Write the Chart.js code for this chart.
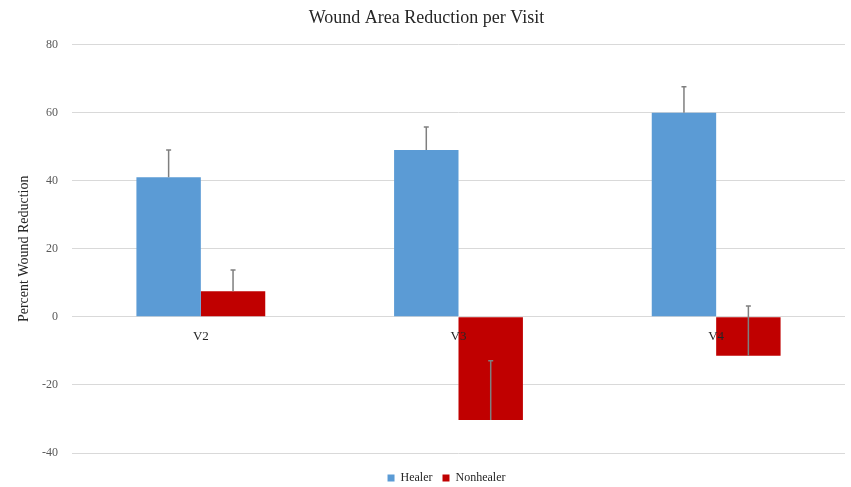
<!DOCTYPE html>
<html>
<head>
<meta charset="utf-8">
<script src="https://cdn.jsdelivr.net/npm/chart.js@4/dist/chart.umd.min.js"></script>
<style>
  html, body { margin: 0; padding: 0; background: #fff; }
  #wrap { width: 851px; height: 487px; }
</style>
</head>
<body>
<div id="wrap"><canvas id="woundChart"></canvas></div>
<script>
const categories = ['V2', 'V3', 'V4'];
const healer = [41, 49, 60];
const healerErr = [8, 6.8, 7.6];
const nonhealer = [7.5, -30.3, -11.4];
const nonhealerErr = [6.3, 17.4, 14.6];
const yMin = -40, yMax = 80, yStep = 20;

const serif = "'Liberation Serif', 'Times New Roman', serif";

// error bars: line from the bar end upward by err, with a small cap
const errorBars = {
  id: 'errorBars',
  afterDatasetsDraw(chart) {
    const ctx = chart.ctx, y = chart.scales.y;
    chart.data.datasets.forEach((ds, i) => {
      const meta = chart.getDatasetMeta(i);
      meta.data.forEach((bar, j) => {
        const v = ds.data[j], e = ds.errors[j];
        const y0 = y.getPixelForValue(v), y1 = y.getPixelForValue(v + e);
        ctx.save();
        ctx.strokeStyle = '#7f7f7f';
        ctx.lineWidth = 1.5;
        ctx.beginPath();
        ctx.moveTo(bar.x, y0);
        ctx.lineTo(bar.x, y1);
        ctx.moveTo(bar.x - 2.5, y1);
        ctx.lineTo(bar.x + 2.5, y1);
        ctx.stroke();
        ctx.restore();
      });
    });
  },
};

// nudge the legend lower and a bit right without giving it more layout space
const legendShift = {
  id: 'legendShift',
  afterLayout(chart) {
    const lg = chart.legend;
    if (!lg) return;
    lg.top += 9; lg.bottom += 9;
    lg.left += 20; lg.right += 20;
  },
};

new Chart(document.getElementById('woundChart'), {
  type: 'bar',
  data: {
    labels: categories,
    datasets: [
      { label: 'Healer', data: healer, errors: healerErr, backgroundColor: '#5b9bd5' },
      { label: 'Nonhealer', data: nonhealer, errors: nonhealerErr, backgroundColor: '#c00000' },
    ],
  },
  options: {
    responsive: true,
    maintainAspectRatio: false,
    animation: false,
    categoryPercentage: 0.5,
    barPercentage: 1,
    layout: { padding: { left: 8, right: 6, top: 0, bottom: 2 } },
    plugins: {
      title: {
        display: true,
        text: 'Wound Area Reduction per Visit',
        color: '#262626',
        font: { family: serif, size: 18, weight: 'normal' },
        padding: { top: 7, bottom: 16 },
      },
      legend: {
        position: 'bottom',
        labels: {
          color: '#262626',
          font: { family: serif, size: 12 },
          boxWidth: 7,
          boxHeight: 7,
          padding: 10,
        },
      },
      tooltip: { enabled: false },
    },
    scales: {
      x: {
        position: { y: 0 },
        grid: { display: false },
        border: { display: false },
        ticks: { z: 1, color: '#262626', font: { family: serif, size: 13 }, padding: 4 },
      },
      y: {
        min: yMin,
        max: yMax,
        afterFit: s => { s.width = 64; },
        grid: { color: '#d9d9d9', lineWidth: 1, drawTicks: false },
        border: { display: false },
        ticks: { stepSize: yStep, color: '#595959', font: { family: serif, size: 12 }, padding: 14 },
        title: {
          display: true,
          text: 'Percent Wound Reduction',
          color: '#262626',
          font: { family: serif, size: 14 },
          padding: { top: 8, bottom: 0 },
        },
      },
    },
  },
  plugins: [errorBars, legendShift],
});
</script>
</body>
</html>
